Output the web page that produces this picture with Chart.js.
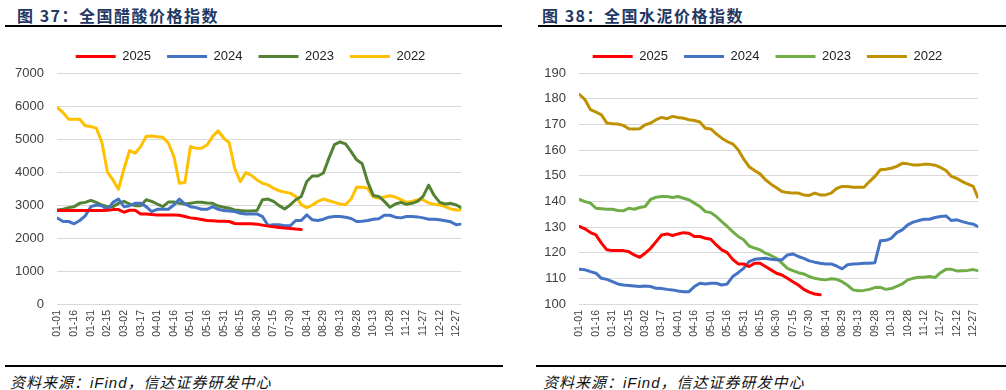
<!DOCTYPE html>
<html>
<head>
<meta charset="utf-8">
<title>全国醋酸价格指数 / 全国水泥价格指数</title>
<script src="https://cdn.jsdelivr.net/npm/chart.js"></script>
<style>
    body { margin: 0; width: 1006px; height: 390px; background: #fff; position: relative; overflow: hidden; }
    .title { position: absolute; top: 3px; font: bold 16px "Noto Sans CJK SC", sans-serif; color: #1f3864; letter-spacing: 1.5px; }
    .rule { position: absolute; height: 2px; background: #000; }
    .src { position: absolute; top: 371px; font: italic 15px "Noto Sans CJK SC", sans-serif; color: #111; letter-spacing: 1px; }
    .src i { font-family: "Liberation Sans", Arial, sans-serif; }
    .box { position: absolute; top: 34px; height: 320px; }
</style>
</head>
<body>
    <div class="title" style="left:17px">图 37：全国醋酸价格指数</div>
    <div class="rule" style="left:5px; width:497px; top:25px"></div>
    <div class="box" style="left:0; width:475px"><canvas id="aceticChart" width="475" height="320"></canvas></div>
    <div class="rule" style="left:5px; width:498px; top:365px"></div>
    <div class="src" style="left:10px">资料来源：<i>iFind</i>，信达证券研发中心</div>

    <div class="title" style="left:542px">图 38：全国水泥价格指数</div>
    <div class="rule" style="left:538px; width:468px; top:25px"></div>
    <div class="box" style="left:503px; width:489px"><canvas id="cementChart" width="489" height="320"></canvas></div>
    <div class="rule" style="left:536px; width:470px; top:365px"></div>
    <div class="src" style="left:543px">资料来源：<i>iFind</i>，信达证券研发中心</div>

    <script>
        // day of year of each sample (every 5 days, plus 12-31)
        const days = [0, 5, 10, 15, 20, 25, 30, 35, 40, 45, 50, 55, 60, 65, 70, 75, 80, 85, 90, 95,
            100, 105, 110, 115, 120, 125, 130, 135, 140, 145, 150, 155, 160, 165, 170, 175, 180, 185, 190, 195,
            200, 205, 210, 215, 220, 225, 230, 235, 240, 245, 250, 255, 260, 265, 270, 275, 280, 285, 290, 295,
            300, 305, 310, 315, 320, 325, 330, 335, 340, 345, 350, 355, 360, 364];
        const tickDays = [0, 15, 30, 45, 60, 75, 90, 105, 120, 135, 150, 165, 180, 195, 210, 225, 240, 255, 270, 285, 300, 315, 330, 345, 360];
        const tickLabels = ['01-01', '01-16', '01-31', '02-15', '03-02', '03-17', '04-01', '04-16', '05-01', '05-16', '05-31', '06-15',
            '06-30', '07-15', '07-30', '08-14', '08-29', '09-13', '09-28', '10-13', '10-28', '11-12', '11-27', '12-12', '12-27'];
        const years = ['2025', '2024', '2023', '2022'];

        // 醋酸价格指数
        const acetic2025 = [2830, 2830, 2830, 2830, 2830, 2830, 2830, 2830, 2830, 2840,
            2860, 2860, 2780, 2840, 2840, 2730, 2730, 2710, 2700, 2700,
            2700, 2700, 2690, 2650, 2610, 2590, 2560, 2530, 2520, 2510,
            2510, 2500, 2440, 2430, 2430, 2430, 2420, 2390, 2360, 2340,
            2320, 2300, 2290, 2270, 2260];
        const acetic2024 = [2600, 2500, 2500, 2430, 2530, 2670, 2950, 3000, 2980, 2850,
            3080, 3180, 2950, 2980, 3050, 3050, 2950, 2800, 2870, 2870,
            2870, 3000, 3180, 3030, 2950, 2920, 2870, 2870, 2950, 2870,
            2830, 2820, 2800, 2750, 2730, 2730, 2730, 2650, 2380, 2400,
            2400, 2370, 2370, 2530, 2530, 2700, 2550, 2530, 2570, 2630,
            2650, 2650, 2630, 2590, 2500, 2510, 2530, 2570, 2580, 2690,
            2690, 2630, 2610, 2650, 2650, 2640, 2610, 2570, 2570, 2550,
            2520, 2490, 2400, 2420];
        const acetic2023 = [2850, 2870, 2920, 2950, 3050, 3080, 3140, 3080, 3000, 2950,
            2950, 3050, 3110, 3030, 2980, 2980, 3160, 3110, 3030, 2950,
            3090, 3090, 3050, 3030, 3050, 3080, 3080, 3060, 3050, 2970,
            2930, 2900, 2850, 2830, 2820, 2820, 2830, 3160, 3180, 3110,
            2980, 2880, 3000, 3160, 3260, 3710, 3880, 3880, 3970, 4420,
            4830, 4910, 4850, 4620, 4370, 4250, 3700, 3290, 3260, 3110,
            2930, 3030, 3080, 3020, 3050, 3110, 3260, 3600, 3290, 3080,
            3030, 3050, 3000, 2930];
        const acetic2022 = [5950, 5800, 5600, 5600, 5600, 5400, 5380, 5330, 4900, 4000,
            3760, 3480, 4100, 4650, 4570, 4770, 5080, 5090, 5070, 5050,
            4880, 4470, 3660, 3680, 4770, 4720, 4720, 4820, 5080, 5250,
            5030, 4880, 4100, 3710, 3980, 3900, 3760, 3660, 3610, 3510,
            3430, 3390, 3360, 3260, 3010, 2920, 3000, 3110, 3180, 3130,
            3080, 3030, 3010, 3180, 3540, 3540, 3510, 3240, 3210, 3240,
            3280, 3240, 3160, 3080, 3110, 3160, 3160, 3060, 3020, 3000,
            2950, 2880, 2850, 2850];

        // 水泥价格指数
        const cement2025 = [130.2, 129.3, 127.8, 126.9, 123.7, 121.1, 120.8, 120.8, 120.8, 120.4,
            119.1, 118.2, 119.8, 121.7, 124.3, 126.9, 127.3, 126.7, 127.3, 127.8,
            127.6, 126.3, 126.3, 125.6, 125.2, 123.0, 121.1, 120.0, 117.4, 115.6,
            115.6, 114.6, 115.9, 115.9, 114.6, 113.3, 112.0, 111.3, 110.0, 108.7,
            107.4, 105.7, 104.6, 103.9, 103.6];
        const cement2024 = [113.5, 113.3, 112.6, 112.0, 110.0, 109.6, 108.7, 107.8, 107.4, 107.2,
            107.0, 106.8, 107.0, 106.8, 106.1, 106.0, 105.7, 105.5, 105.1, 104.8,
            104.8, 106.8, 108.1, 107.8, 108.1, 108.1, 107.4, 107.8, 110.7, 112.2,
            113.9, 116.5, 117.4, 117.6, 117.8, 117.4, 117.2, 117.2, 119.1, 119.5,
            118.5, 117.8, 116.8, 116.3, 115.9, 115.6, 115.6, 114.8, 113.7, 115.3,
            115.6, 115.7, 115.9, 115.9, 116.1, 124.6, 124.8, 125.6, 127.8, 128.9,
            130.8, 131.9, 132.5, 133.0, 133.0, 133.7, 134.1, 134.3, 132.5, 132.8,
            132.1, 131.5, 131.1, 130.2];
        const cement2023 = [140.8, 139.9, 139.3, 137.3, 137.1, 136.9, 136.9, 136.4, 136.3, 137.3,
            136.9, 137.6, 138.0, 140.8, 141.6, 141.9, 141.9, 141.5, 141.9, 141.2,
            140.6, 139.3, 138.0, 136.0, 135.6, 134.1, 132.1, 130.2, 128.2, 126.3,
            125.0, 122.6, 121.8, 121.1, 119.8, 118.9, 117.8, 115.9, 113.9, 113.0,
            112.2, 111.7, 110.7, 110.0, 109.6, 109.4, 109.8, 109.6, 108.7, 107.3,
            105.5, 105.2, 105.3, 105.7, 106.4, 106.5, 105.7, 106.0, 106.9, 107.8,
            109.4, 110.0, 110.4, 110.4, 110.7, 110.3, 112.2, 113.5, 113.5, 112.9,
            113.0, 113.1, 113.4, 113.0];
        const cement2022 = [181.6, 179.6, 175.7, 174.8, 173.7, 170.5, 170.2, 170.1, 169.6, 168.3,
            168.2, 168.3, 169.8, 170.5, 171.8, 172.7, 172.2, 173.1, 172.7, 172.4,
            171.8, 171.5, 170.9, 168.5, 168.2, 166.3, 164.6, 163.3, 162.4, 160.1,
            156.5, 153.5, 152.0, 150.7, 148.4, 146.7, 145.3, 143.8, 143.4, 143.2,
            143.2, 142.5, 142.3, 143.2, 142.5, 142.5, 143.2, 145.0, 145.8, 145.8,
            145.5, 145.5, 145.5, 147.7, 149.7, 152.3, 152.5, 152.9, 153.6, 154.8,
            154.6, 154.2, 154.2, 154.4, 154.4, 154.1, 153.2, 152.0, 149.7, 148.9,
            147.7, 146.7, 145.8, 141.6];

        const tickFont = { family: '"Liberation Sans", Arial, sans-serif', size: 13 };
        const textColor = '#404040';

        // nudge the legend sideways so it sits where the original has it
        const legendShift = {
            id: 'legendShift',
            afterLayout(chart, args, opts) {
                chart.legend.left += opts.dx;
                chart.legend.right += opts.dx;
            }
        };

        function makeChart(id, series, colors, yMin, yMax, yStep, yWidth, legendDx) {
            new Chart(document.getElementById(id), {
                type: 'line',
                data: {
                    labels: days,
                    datasets: series.map((values, i) => ({
                        label: years[i],
                        data: values,
                        borderColor: colors[i],
                        backgroundColor: colors[i],
                        borderWidth: 3,
                        pointRadius: 0,
                        tension: 0,
                        borderJoinStyle: 'round',
                        borderCapStyle: 'round'
                    }))
                },
                plugins: [legendShift],
                options: {
                    responsive: false,
                    animation: false,
                    layout: { padding: { left: 0, right: 6, top: 0, bottom: 0 } },
                    plugins: {
                        tooltip: { enabled: false },
                        legendShift: { dx: legendDx },
                        legend: {
                            position: 'top',
                            labels: {
                                usePointStyle: true,
                                pointStyle: 'line',
                                pointStyleWidth: 40,
                                padding: 16,
                                color: '#222',
                                font: tickFont
                            }
                        }
                    },
                    scales: {
                        x: {
                            type: 'linear',
                            min: -0.5,
                            max: 364.5,
                            grid: { display: false, drawTicks: false },
                            border: { display: false },
                            afterBuildTicks: s => { s.ticks = tickDays.map(v => ({ value: v })); },
                            afterFit: s => { s.height = 50; },
                            ticks: {
                                autoSkip: false,
                                minRotation: 90,
                                maxRotation: 90,
                                padding: 6,
                                color: textColor,
                                font: { family: tickFont.family, size: 10.5 },
                                callback: v => tickLabels[tickDays.indexOf(v)]
                            }
                        },
                        y: {
                            min: yMin,
                            max: yMax,
                            grid: { color: '#d9d9d9', lineWidth: 1, drawTicks: false },
                            border: { display: false },
                            afterFit: s => { s.width = yWidth; },
                            ticks: { stepSize: yStep, padding: 13, color: textColor, font: tickFont, callback: v => String(v) }
                        }
                    }
                }
            });
        }

        makeChart('aceticChart', [acetic2025, acetic2024, acetic2023, acetic2022],
            ['#ff0000', '#4472c4', '#548235', '#ffc000'], 0, 7000, 1000, 57, 16);
        makeChart('cementChart', [cement2025, cement2024, cement2023, cement2022],
            ['#ff0000', '#4472c4', '#70ad47', '#bf9000'], 100, 190, 10, 76, 23);
    </script>
</body>
</html>
